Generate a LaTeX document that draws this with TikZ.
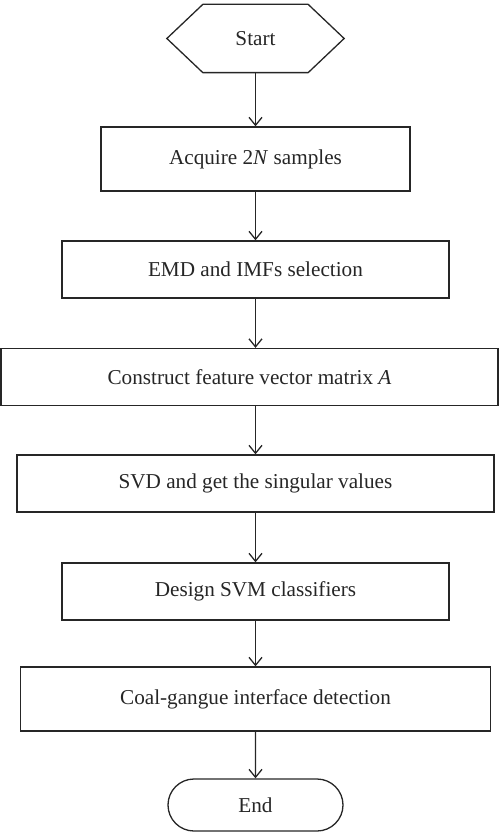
\documentclass[tikz,border=0pt]{standalone}
\usepackage{fontspec}
\setmainfont{Liberation Serif}
\usetikzlibrary{positioning, shapes.misc, arrows.meta}

\tikzset{
  block/.style={draw, minimum height=28.5pt, inner sep=0pt},
  terminal/.style={draw, rounded rectangle, minimum width=87.5pt, minimum height=26pt, inner sep=0pt},
}

\begin{document}
\begin{tikzpicture}[>={Straight Barb[length=4pt, width=6.5pt]}, node distance=53.75pt, on grid,
    line width=0.65pt, color=black!85, font=\fontsize{10.6}{12.7}\selectfont]
  \useasboundingbox (-127.75pt,19.25pt) rectangle (121.75pt,-397.25pt);

  % start hexagon, outline drawn from the node's anchors
  \node[minimum width=88pt, minimum height=33.5pt, inner sep=0pt] (start) {Start};
  \draw (start.west) -- ([xshift=18pt]start.north west) -- ([xshift=-18pt]start.north east)
        -- (start.east) -- ([xshift=-18pt]start.south east) -- ([xshift=18pt]start.south west) -- cycle;

  \node[block, minimum width=154.5pt, minimum height=32pt] (acq) [below=60.25pt of start] {Acquire 2\textit{N} samples};
  \node[block, minimum width=193.5pt] (emd) [below=55.25pt of acq] {EMD and IMFs selection};
  \node[block, minimum width=248.5pt, xshift=-3pt] (con) [below=of emd] {Construct feature vector matrix \textit{A}};
  \node[block, minimum width=238.5pt, xshift=3pt] (svd) [below=53.25pt of con] {SVD and get the singular values};
  \node[block, minimum width=193.5pt] (des) [below=54pt of svd] {Design SVM classifiers};
  \node[block, minimum width=235pt, minimum height=32pt] (coal) [below=of des] {Coal-gangue interface detection};
  \node[terminal] (end) [below=53pt of coal] {End};

  \path[->]
    (start) edge (acq)
    (acq)   edge (emd)
    (emd)   edge (emd |- con.north)
    (svd |- con.south) edge (svd)
    (svd)   edge (des)
    (des)   edge (coal)
    (coal)  edge (end);
\end{tikzpicture}
\end{document}
